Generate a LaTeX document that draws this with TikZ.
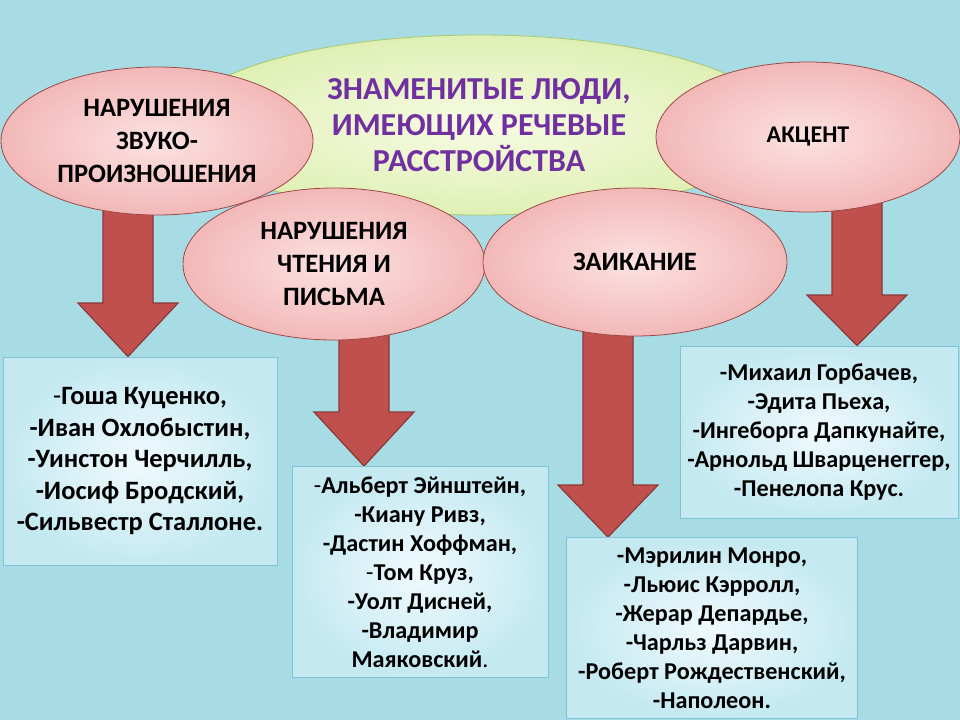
\documentclass[tikz,border=0pt]{standalone}
\usepackage{fontspec}
\setmainfont{Carlito}
\usetikzlibrary{shapes.geometric}
\definecolor{bgblue}{HTML}{A8DCE5}
\definecolor{pinkin}{HTML}{FCE2E2}
\definecolor{pinkout}{HTML}{F3B8B8}
\definecolor{pinkline}{HTML}{9C4A48}
\definecolor{greenin}{HTML}{F7FBE4}
\definecolor{greenout}{HTML}{DFF0B4}
\definecolor{greenline}{HTML}{A8C86C}
\definecolor{boxin}{HTML}{F0FAFD}
\definecolor{boxout}{HTML}{C4E9F1}
\definecolor{boxline}{HTML}{7FC3D4}
\definecolor{arrowred}{HTML}{C0504D}
\definecolor{arrowline}{HTML}{8C3836}
\definecolor{titlepurple}{HTML}{7030A0}
\pgfdeclarelayer{back}
\pgfdeclarelayer{arrows}
\pgfsetlayers{back,arrows,main}

\begin{document}
\begin{tikzpicture}[x=1pt, y=-1pt,
    pink/.style = {ellipse, draw=pinkline, thick, inner color=pinkin, outer color=pinkout, inner sep=0pt, align=center, font=\bfseries\fontsize{26.5}{33}\selectfont},
    list/.style = {rectangle, draw=boxline, thick, inner color=boxin, outer color=boxout, inner sep=0pt, align=center, font=\bfseries\fontsize{24.2}{29}\selectfont},
    blk/.style = {fill=arrowred, draw=arrowline, line width=1.2pt, line join=miter}]
    \useasboundingbox (0,0) rectangle (960,720);
    \begin{pgfonlayer}{back}
        \fill[bgblue] (0,0) rectangle (960,720);
    \end{pgfonlayer}

    % title
    \node[ellipse, draw=greenline, thick, inner color=greenin, outer color=greenout, minimum width=600, minimum height=180, align=center, text=titlepurple, font=\bfseries\fontsize{32}{36}\selectfont] (z) at (479,125) {ЗНАМЕНИТЫЕ ЛЮДИ,\\ИМЕЮЩИХ РЕЧЕВЫЕ\\РАССТРОЙСТВА};

    % kinds of disorder
    \node[pink, minimum width=312, minimum height=148] (n1) at (157,141) {НАРУШЕНИЯ\\ЗВУКО-\\ПРОИЗНОШЕНИЯ};
    \node[pink, minimum width=304, minimum height=150, font=\bfseries\fontsize{24}{33}\selectfont] (n4) at (808,137) {АКЦЕНТ};
    \node[pink, minimum width=302, minimum height=152] (n2) at (334,264) {НАРУШЕНИЯ\\ЧТЕНИЯ И\\ПИСЬМА};
    \node[pink, minimum width=304, minimum height=148] (n3) at (635,262) {ЗАИКАНИЕ};

    % people
    \node[list, minimum width=274, minimum height=208, font=\bfseries\fontsize{26.5}{31.5}\selectfont] (l1) at (140,461) {{\mdseries-}Гоша Куценко,\\-Иван Охлобыстин,\\-Уинстон Черчилль,\\-Иосиф Бродский,\\-Сильвестр Сталлоне.};
    \node[list, minimum width=256, minimum height=211] (l2) at (420,572) {{\mdseries-}Альберт Эйнштейн,\\-Киану Ривз,\\-Дастин Хоффман,\\{\mdseries-}Том Круз,\\-Уолт Дисней,\\-Владимир\\Маяковский{\mdseries.}};
    \node[list, minimum width=291, minimum height=181] (l3) at (712,628) {-Мэрилин Монро,\\-Льюис Кэрролл,\\-Жерар Депардье,\\-Чарльз Дарвин,\\-Роберт Рождественский,\\-Наполеон.};
    \node[list, minimum width=278, minimum height=172] (l4) at (819,432) {-Михаил Горбачев,\\-Эдита Пьеха,\\-Ингеборга Дапкунайте,\\-Арнольд Шварценеггер,\\-Пенелопа Крус.};

    % block arrows
    \begin{pgfonlayer}{arrows}
    \foreach \x/\s/\h/\t in {128/n1/303/l1, 364/n2/412/l2, 608/n3/485/l3, 857/n4/295/l4}
        \draw[blk] ({\x-25},0 |- \s.center) -- ({\x-25},\h) -- ({\x-50},\h) -- (\x,0 |- \t.north)
            -- ({\x+50},\h) -- ({\x+25},\h) -- ({\x+25},0 |- \s.center) -- cycle;
    \end{pgfonlayer}
\end{tikzpicture}
\end{document}
